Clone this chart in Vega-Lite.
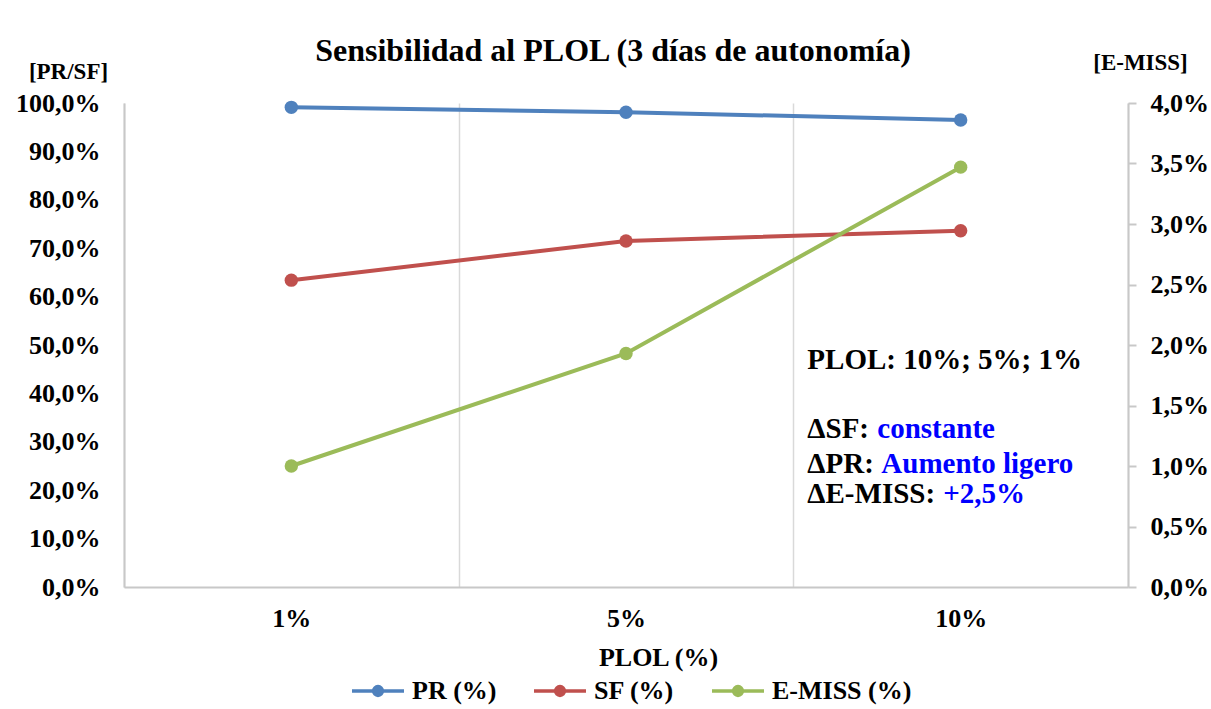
{
  "$schema": "https://vega.github.io/schema/vega-lite/v6.json",
  "width": 1004,
  "height": 484,
  "autosize": {"type": "none"},
  "padding": {"left": 124, "top": 103, "right": 83, "bottom": 122},
  "background": "white",
  "title": {
    "text": "Sensibilidad al PLOL (3 días de autonomía)",
    "anchor": "middle",
    "frame": "group",
    "baseline": "alphabetic",
    "dx": -13,
    "offset": -42,
    "font": "Liberation Serif",
    "fontSize": 32,
    "fontWeight": "bold",
    "color": "black"
  },
  "config": {
    "view": {"stroke": null},
    "font": "Liberation Serif",
    "text": {"font": "Liberation Serif"}
  },
  "datasets": {
    "prsf": [
      {"plol": "1%", "serie": "PR (%)", "valor": 0.991},
      {"plol": "5%", "serie": "PR (%)", "valor": 0.981},
      {"plol": "10%", "serie": "PR (%)", "valor": 0.965},
      {"plol": "1%", "serie": "SF (%)", "valor": 0.634},
      {"plol": "5%", "serie": "SF (%)", "valor": 0.715},
      {"plol": "10%", "serie": "SF (%)", "valor": 0.736}
    ],
    "emiss": [
      {"plol": "1%", "serie": "E-MISS (%)", "valor": 0.0100},
      {"plol": "5%", "serie": "E-MISS (%)", "valor": 0.0193},
      {"plol": "10%", "serie": "E-MISS (%)", "valor": 0.0347}
    ],
    "notas": [
      {"plol": "10%", "pos": 0.468, "texto": "PLOL: 10%; 5%; 1%"},
      {"plol": "10%", "pos": 0.326, "texto": "ΔSF:"},
      {"plol": "10%", "pos": 0.255, "texto": "ΔPR:"},
      {"plol": "10%", "pos": 0.193, "texto": "ΔE-MISS:"}
    ],
    "detalles": [
      {"plol": "10%", "pos": 0.326, "clave": "SF", "texto": "constante"},
      {"plol": "10%", "pos": 0.255, "clave": "PR", "texto": "Aumento ligero"},
      {"plol": "10%", "pos": 0.193, "clave": "EM", "texto": "+2,5%"}
    ]
  },
  "encoding": {
    "x": {
      "field": "plol",
      "type": "nominal",
      "sort": ["1%", "5%", "10%"],
      "scale": {"type": "band", "paddingInner": 0, "paddingOuter": 0},
      "axis": {
        "title": "PLOL (%)",
        "titleX": 534,
        "titleY": 78,
        "titleBaseline": "alphabetic",
        "titleAlign": "center",
        "titleFont": "Liberation Serif",
        "titleFontSize": 26,
        "titleFontWeight": "bold",
        "titleColor": "black",
        "labelAngle": 0,
        "labelFont": "Liberation Serif",
        "labelFontSize": 26,
        "labelFontWeight": "bold",
        "labelColor": "black",
        "labelPadding": 18,
        "labelBaseline": "top",
        "ticks": false,
        "tickBand": "extent",
        "grid": true,
        "gridColor": "#d9d9d9",
        "gridWidth": 1.5,
        "domainColor": "#c8c8c8",
        "domainWidth": 2
      }
    }
  },
  "layer": [
    {
      "encoding": {
        "y": {
          "type": "quantitative",
          "scale": {"domain": [0, 1], "nice": false, "zero": true},
          "axis": {
            "orient": "left",
            "values": [0, 0.1, 0.2, 0.3, 0.4, 0.5, 0.6, 0.7, 0.8, 0.9, 1],
            "labelExpr": "replace(format(datum.value, '.1%'), '.', ',')",
            "title": "[PR/SF]",
            "titleAngle": 0,
            "titleX": -56,
            "titleY": -32,
            "titleAlign": "center",
            "titleBaseline": "middle",
            "titleFont": "Liberation Serif",
            "titleFontSize": 23,
            "titleFontWeight": "bold",
            "titleColor": "black",
            "labelFont": "Liberation Serif",
            "labelFontSize": 26,
            "labelFontWeight": "bold",
            "labelColor": "black",
            "labelPadding": 24,
            "ticks": false,
            "grid": false,
            "domainColor": "#c8c8c8",
            "domainWidth": 2
          }
        }
      },
      "layer": [
        {
          "data": {"name": "prsf"},
          "mark": {"type": "line", "strokeWidth": 4},
          "encoding": {
            "y": {"field": "valor"},
            "color": {
              "field": "serie",
              "type": "nominal",
              "scale": {
                "domain": ["PR (%)", "SF (%)", "E-MISS (%)"],
                "range": ["#4f81bd", "#c0504d", "#9bbb59"]
              },
              "legend": {
                "title": null,
                "orient": "none",
                "direction": "horizontal",
                "legendX": 226,
                "legendY": 560,
                "symbolType": "M-1,0H1M0.17,0A0.17,0.17,0,1,1,-0.17,0A0.17,0.17,0,1,1,0.17,0Z",
                "symbolSize": 2704,
                "symbolStrokeWidth": 3.5,
                "labelFont": "Liberation Serif",
                "labelFontSize": 26,
                "labelFontWeight": "bold",
                "labelColor": "black",
                "labelOffset": 6,
                "columnPadding": 30,
                "encode": {
                  "symbols": {
                    "update": {
                      "stroke": {"scale": "color", "field": "value"},
                      "fill": {"scale": "color", "field": "value"},
                      "opacity": {"value": 1}
                    }
                  }
                }
              }
            }
          }
        },
        {
          "data": {"name": "prsf"},
          "mark": {"type": "point", "filled": true, "size": 180, "opacity": 1},
          "encoding": {
            "y": {"field": "valor"},
            "color": {"field": "serie", "type": "nominal"}
          }
        },
        {
          "data": {"name": "notas"},
          "mark": {"type": "text", "align": "left", "baseline": "middle", "dx": 14, "fontSize": 29, "fontWeight": "bold", "color": "black"},
          "encoding": {
            "x": {"field": "plol", "bandPosition": 0},
            "y": {"field": "pos"},
            "text": {"field": "texto"}
          }
        },
        {
          "data": {"name": "detalles"},
          "transform": [{"filter": "datum.clave === 'SF'"}],
          "mark": {"type": "text", "align": "left", "baseline": "middle", "dx": 84, "fontSize": 29, "fontWeight": "bold", "color": "#0000ff"},
          "encoding": {
            "x": {"field": "plol", "bandPosition": 0},
            "y": {"field": "pos"},
            "text": {"field": "texto"}
          }
        },
        {
          "data": {"name": "detalles"},
          "transform": [{"filter": "datum.clave === 'PR'"}],
          "mark": {"type": "text", "align": "left", "baseline": "middle", "dx": 88, "fontSize": 29, "fontWeight": "bold", "color": "#0000ff"},
          "encoding": {
            "x": {"field": "plol", "bandPosition": 0},
            "y": {"field": "pos"},
            "text": {"field": "texto"}
          }
        },
        {
          "data": {"name": "detalles"},
          "transform": [{"filter": "datum.clave === 'EM'"}],
          "mark": {"type": "text", "align": "left", "baseline": "middle", "dx": 150, "fontSize": 29, "fontWeight": "bold", "color": "#0000ff"},
          "encoding": {
            "x": {"field": "plol", "bandPosition": 0},
            "y": {"field": "pos"},
            "text": {"field": "texto"}
          }
        }
      ]
    },
    {
      "data": {"name": "emiss"},
      "encoding": {
        "y": {
          "field": "valor",
          "type": "quantitative",
          "scale": {"domain": [0, 0.04], "nice": false, "zero": true},
          "axis": {
            "orient": "right",
            "values": [0, 0.005, 0.01, 0.015, 0.02, 0.025, 0.03, 0.035, 0.04],
            "labelExpr": "replace(format(datum.value, '.1%'), '.', ',')",
            "title": "[E-MISS]",
            "titleAngle": 0,
            "titleX": 12,
            "titleY": -41,
            "titleAlign": "center",
            "titleBaseline": "middle",
            "titleFont": "Liberation Serif",
            "titleFontSize": 23,
            "titleFontWeight": "bold",
            "titleColor": "black",
            "labelFont": "Liberation Serif",
            "labelFontSize": 26,
            "labelFontWeight": "bold",
            "labelColor": "black",
            "labelPadding": 14,
            "ticks": true,
            "tickSize": 8,
            "tickColor": "#c8c8c8",
            "tickWidth": 2,
            "grid": false,
            "domainColor": "#c8c8c8",
            "domainWidth": 2
          }
        },
        "color": {"field": "serie", "type": "nominal"}
      },
      "layer": [
        {"mark": {"type": "line", "strokeWidth": 4}},
        {"mark": {"type": "point", "filled": true, "size": 180, "opacity": 1}}
      ]
    }
  ],
  "resolve": {"scale": {"y": "independent"}}
}
